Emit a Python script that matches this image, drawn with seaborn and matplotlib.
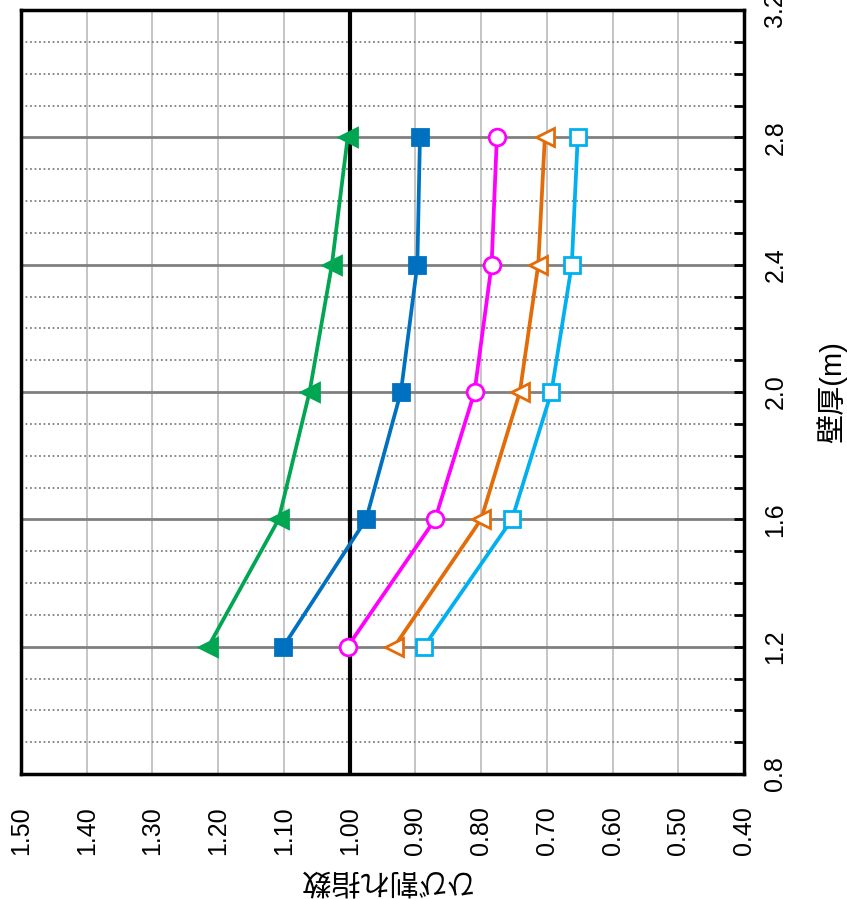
import seaborn as sns
import matplotlib.pyplot as plt
import numpy as np
import pandas as pd
from matplotlib.ticker import MultipleLocator

# wall thickness (m)
thickness = [1.2, 1.6, 2.0, 2.4, 2.8]

# cracking index per series
green_tri = [1.215, 1.108, 1.061, 1.027, 1.003]
blue_sq = [1.101, 0.975, 0.922, 0.897, 0.893]
magenta_circ = [1.003, 0.870, 0.810, 0.784, 0.776]
orange_tri = [0.932, 0.800, 0.741, 0.713, 0.703]
cyan_sq = [0.887, 0.753, 0.693, 0.662, 0.653]

x_ticks = [1.50, 1.40, 1.30, 1.20, 1.10, 1.00, 0.90, 0.80, 0.70, 0.60, 0.50, 0.40]
y_ticks = [0.8, 1.2, 1.6, 2.0, 2.4, 2.8, 3.2]

sns.set_theme(style="white")
plt.rcParams['font.family'] = ['Liberation Sans', 'Noto Sans CJK JP', 'DejaVu Sans']
plt.rcParams['text.color'] = 'black'
plt.rcParams['axes.labelcolor'] = 'black'
plt.rcParams['xtick.color'] = 'black'
plt.rcParams['ytick.color'] = 'black'

fig = plt.figure(figsize=(8.47, 8.99), dpi=100)
W, H = 847, 899
ax = fig.add_axes([21 / W, 1 - 774 / H, (744 - 21) / W, (774 - 10) / H])

# grid
for xv in x_ticks:
    ax.axvline(xv, color='#c0c0c0', lw=1.3, zorder=0)
for yv in np.arange(0.9, 3.2, 0.1):
    if round(yv, 1) in y_ticks:
        ax.axhline(yv, color='#808080', lw=2, zorder=0)
    else:
        ax.axhline(yv, color='#808080', lw=1.3, ls=(0, (1, 1.5)), zorder=0)

ax.axvline(1.00, color='black', lw=3, zorder=1)

series = [
    (green_tri, '#00a651', '<', True),
    (blue_sq, '#0070c0', 's', True),
    (magenta_circ, '#ff00ff', 'o', False),
    (orange_tri, '#e36c09', '<', False),
    (cyan_sq, '#00b0f0', 's', False),
]
for vals, col, mk, filled in series:
    df = pd.DataFrame({'idx': vals, 't': thickness})
    sns.lineplot(data=df, x='idx', y='t', sort=False, estimator=None, ax=ax,
                 color=col, lw=2.7, marker=mk, markersize=12 if mk != '<' else 13,
                 markerfacecolor=col if filled else 'white',
                 markeredgecolor=col, markeredgewidth=2, zorder=3)

ax.set_xlim(1.5, 0.4)
ax.set_ylim(0.8, 3.2)
ax.set_xticks(x_ticks)
ax.set_xticklabels([f"{v:.2f}" for v in x_ticks], rotation=90, fontsize=18)
ax.tick_params(axis='x', length=0, pad=23)

ax.yaxis.tick_right()
ax.set_yticks(y_ticks)
ax.set_yticklabels([f"{v:.1f}" for v in y_ticks], rotation=90, fontsize=18, va='center')
ax.yaxis.set_minor_locator(MultipleLocator(0.1))
ax.tick_params(axis='y', which='both', direction='in', length=7, width=2, color='black', pad=14)

for sp in ax.spines.values():
    sp.set_color('black')
    sp.set_linewidth(2.5)

ax.set_xlabel('ひび割れ指数', rotation=180, fontsize=21, va='center', ha='center')
ax.xaxis.set_label_coords(0.5, -0.139)
ax.yaxis.set_label_position('right')
ax.set_ylabel('壁厚(m)', rotation=90, fontsize=21, va='center', ha='center')
ax.yaxis.set_label_coords(1.122, 0.5)

fig.savefig('out.png', dpi=100)
